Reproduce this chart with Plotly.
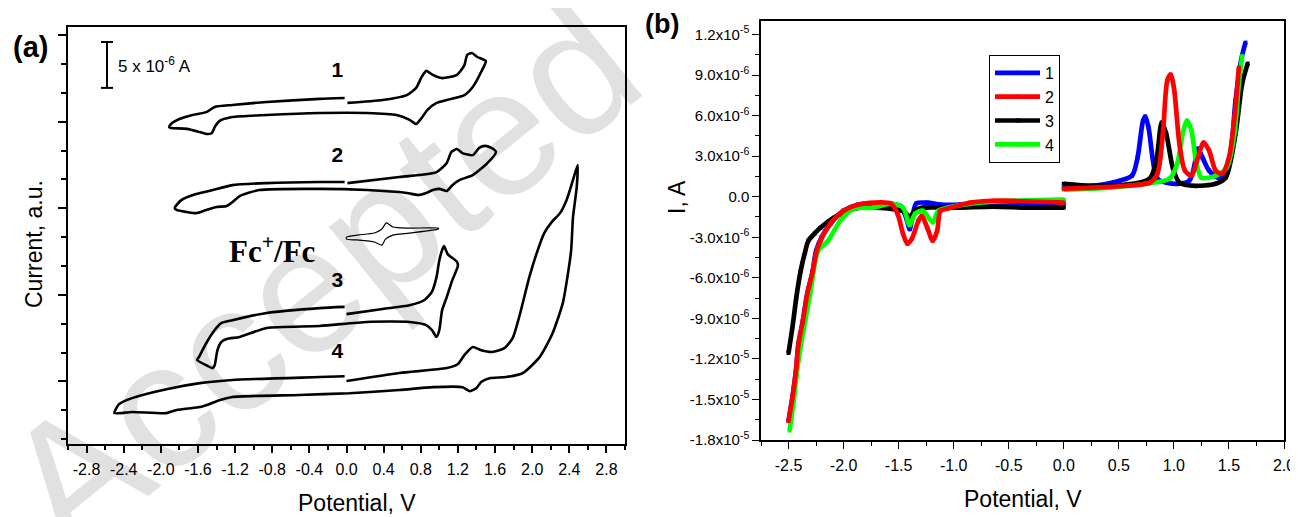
import plotly.graph_objects as go

# the page body has an 8 px default margin, so the figure is drawn 8 px in from the corner
OFF = 8
W, H = 1298 - OFF, 517 - OFF

# ---------------- Panel (a): CVs, potential (V) vs current (a.u.) ----------------
cv1_E = [0.01, 0.39, 0.65, 0.75, 0.81, 0.86, 0.93, 1.03, 1.19, 1.27, 1.30, 1.35, 1.41, 1.50,
         1.45, 1.36, 1.27, 1.08, 0.97, 0.87, 0.81, 0.75, 0.68, 0.54, 0.22, -0.29, -0.86, -1.23,
         -1.37, -1.42, -1.45, -1.50, -1.58, -1.72, -1.89, -1.91,
         -1.89, -1.80, -1.66, -1.51, -1.42, -1.23, -0.86, -0.29, -0.02]
cv1_I = [11.65, 11.75, 11.92, 12.17, 12.55, 12.76, 12.62, 12.51, 12.62, 12.96, 13.31, 13.38, 13.24, 13.10,
         12.72, 12.20, 11.92, 11.75, 11.65, 11.40, 11.13, 10.92, 11.06, 11.23, 11.30, 11.30, 11.23, 11.16,
         11.02, 10.81, 10.61, 10.57, 10.64, 10.75, 10.78, 10.81,
         10.92, 11.09, 11.23, 11.33, 11.51, 11.58, 11.68, 11.79, 11.82]

cv2_E = [0.01, 0.57, 0.97, 1.08, 1.13, 1.19, 1.25, 1.36, 1.43, 1.49, 1.56, 1.61,
         1.52, 1.36, 1.22, 1.14, 1.08, 1.00, 0.93, 0.86, 0.77, 0.65, 0.22, -0.29, -0.94, -1.15,
         -1.23, -1.29, -1.40, -1.51, -1.62, -1.72, -1.83, -1.85,
         -1.78, -1.62, -1.44, -1.23, -0.86, -0.29, -0.02]
cv2_I = [8.87, 9.08, 9.25, 9.57, 9.95, 10.05, 9.91, 9.84, 10.09, 10.16, 10.09, 9.95,
         9.57, 9.15, 8.98, 8.80, 8.60, 8.67, 8.63, 8.53, 8.46, 8.53, 8.63, 8.67, 8.63, 8.42,
         8.21, 8.08, 8.04, 7.94, 7.83, 7.87, 7.94, 8.01,
         8.28, 8.49, 8.63, 8.80, 8.87, 8.91, 8.91]

cv3_E = [0.00, 0.39, 0.68, 0.84, 0.92, 0.97, 1.00, 1.03, 1.05, 1.09, 1.19, 1.20,
         1.14, 1.08, 1.03, 1.00, 0.97, 0.92, 0.86, 0.68, 0.22, -0.29, -0.86, -1.15, -1.29,
         -1.35, -1.39, -1.42, -1.44, -1.51, -1.61,
         -1.59, -1.51, -1.42, -1.35, -1.23, -0.86, -0.29, -0.02]
cv3_I = [4.33, 4.51, 4.64, 4.82, 5.10, 5.62, 6.20, 6.55, 6.69, 6.41, 6.14, 6.00,
         5.51, 4.92, 4.47, 3.78, 3.54, 3.78, 3.95, 4.06, 4.06, 3.92, 3.85, 3.54, 3.47,
         3.36, 3.08, 2.56, 2.46, 2.56, 2.74,
         2.84, 3.33, 3.78, 4.02, 4.12, 4.37, 4.54, 4.58]

cv4_E = [0.00, 0.57, 1.08, 1.20, 1.27, 1.36, 1.45, 1.57, 1.70, 1.79, 1.86, 1.97, 2.06, 2.13,
         2.21, 2.30, 2.37, 2.44, 2.49,
         2.48, 2.44, 2.42, 2.38, 2.33, 2.22, 2.08, 1.90, 1.72, 1.54, 1.45, 1.40, 1.33, 1.25,
         0.93, 0.57, 0.03, -0.51, -1.23, -1.37, -1.48, -1.58, -1.83, -1.94, -2.31, -2.50,
         -2.45, -2.31, -1.94, -1.58, -1.23, -0.29, -0.02]
cv4_I = [2.01, 2.29, 2.46, 2.60, 2.91, 3.19, 3.08, 3.02, 3.15, 3.50, 4.23, 5.62, 6.55, 7.14,
         7.52, 7.83, 8.28, 8.98, 9.50,
         8.73, 7.69, 6.55, 5.62, 4.71, 3.67, 2.84, 2.29, 2.15, 2.11, 1.98, 1.77, 1.66, 1.80,
         1.80, 1.70, 1.59, 1.53, 1.46, 1.35, 1.21, 1.11, 1.01, 0.90, 0.94, 0.90,
         1.21, 1.42, 1.73, 1.94, 2.05, 2.15, 2.18]

fc_E = [0.00, 0.12, 0.30, 0.38, 0.43, 0.50, 0.65, 0.99, 0.99, 0.68, 0.50, 0.42, 0.38, 0.30, 0.11, 0.00, 0.00]
fc_I = [7.00, 7.07, 7.14, 7.28, 7.49, 7.35, 7.31, 7.31, 7.28, 7.14, 7.07, 6.93, 6.72, 6.83, 6.90, 6.93, 7.00]

curve_labels = ["1", "2", "3", "4"]
label_E = [-0.10, -0.10, -0.10, -0.10]
label_I = [12.72, 9.77, 5.45, 2.98]

a_xtick_vals = [-2.8, -2.4, -2.0, -1.6, -1.2, -0.8, -0.4, 0.0, 0.4, 0.8, 1.2, 1.6, 2.0, 2.4, 2.8]
a_xtick_text = ["-2.8", "-2.4", "-2.0", "-1.6", "-1.2", "-0.8", "-0.4", "0.0", "0.4", "0.8", "1.2",
                "1.6", "2.0", "2.4", "2.8"]

# ---------------- Panel (b): potential (V) vs current (1e-6 A) ----------------
b1_neg_E = [-2.50, -2.46, -2.43, -2.41, -2.37, -2.33, -2.28, -2.25, -2.20, -2.12, -2.00, -1.87, -1.57,
            -1.48, -1.43, -1.40, -1.37, -1.34, -1.24, -1.12, -0.94, -0.64, 0.00]
b1_neg_I = [-16.6, -14.6, -12.7, -10.9, -9.2, -7.2, -5.5, -4.0, -3.0, -2.0, -1.04, -0.59, -0.52,
            -0.7, -1.6, -2.4, -1.3, -0.5, -0.44, -0.59, -0.59, -0.44, -0.59]
b1_pos_E = [0.00, 0.26, 0.51, 0.62, 0.67, 0.72, 0.74, 0.77, 0.81, 0.85, 0.99, 1.14, 1.20, 1.22, 1.26,
            1.32, 1.41, 1.50, 1.56, 1.61, 1.65]
b1_pos_I = [0.67, 0.81, 1.19, 1.56, 2.89, 5.63, 5.93, 5.11, 2.67, 1.33, 0.96, 1.19, 2.89, 3.56, 2.89,
            1.93, 1.41, 2.67, 7.11, 10.1, 11.4]

b2_neg_E = [-2.50, -2.46, -2.43, -2.41, -2.37, -2.33, -2.28, -2.25, -2.21, -2.12, -2.00, -1.87, -1.57,
            -1.51, -1.46, -1.42, -1.38, -1.32, -1.29, -1.24, -1.19, -1.15, -1.12, -1.06, -0.85, -0.64, 0.00]
b2_neg_I = [-16.6, -14.6, -12.7, -10.9, -9.2, -7.2, -5.5, -4.2, -3.26, -2.0, -1.04, -0.59, -0.52,
            -1.26, -2.74, -3.48, -3.11, -1.78, -1.41, -2.30, -3.26, -2.52, -1.04, -0.89, -0.44, -0.30, -0.44]
b2_pos_E = [0.00, 0.26, 0.57, 0.78, 0.85, 0.90, 0.94, 0.97, 1.00, 1.05, 1.10, 1.16, 1.21, 1.27, 1.32,
            1.38, 1.44, 1.50, 1.55, 1.59]
b2_pos_I = [0.59, 0.67, 0.81, 1.04, 1.70, 4.67, 8.59, 9.04, 8.08, 3.93, 1.93, 1.56, 2.67, 4.0, 3.41,
            1.93, 1.70, 2.89, 5.85, 9.56]

b3_neg_E = [-2.50, -2.46, -2.43, -2.39, -2.35, -2.32, -2.26, -2.21, -2.09, -1.96, -1.85, -1.57, -1.45,
            -1.40, -1.35, -1.28, -0.97, -0.64, -0.34, 0.00]
b3_neg_I = [-11.56, -9.4, -7.5, -5.5, -4.1, -3.26, -2.7, -2.30, -1.56, -1.04, -0.81, -0.9, -1.1,
            -1.5, -1.0, -0.81, -0.81, -0.74, -0.81, -0.81]
b3_pos_E = [0.00, 0.26, 0.57, 0.78, 0.84, 0.89, 0.93, 0.99, 1.05, 1.17, 1.38, 1.47, 1.56, 1.62, 1.67]
b3_pos_I = [0.96, 0.81, 0.89, 1.33, 2.67, 5.48, 4.67, 2.15, 1.04, 0.81, 0.96, 1.41, 4.67, 8.37, 9.85]

b4_neg_E = [-2.49, -2.45, -2.41, -2.36, -2.30, -2.23, -2.14, -2.03, -1.91, -1.73, -1.57, -1.46, -1.40,
            -1.35, -1.28, -1.19, -1.14, -0.97, -0.64, 0.00]
b4_neg_I = [-17.3, -14.9, -12.1, -9.7, -7.0, -4.0, -3.26, -1.78, -0.89, -0.81, -0.52, -0.81, -2.1,
            -1.26, -1.04, -1.9, -1.04, -0.67, -0.37, -0.22]
b4_pos_E = [0.00, 0.42, 0.75, 0.96, 1.03, 1.08, 1.12, 1.16, 1.20, 1.25, 1.38, 1.48, 1.55, 1.59, 1.62]
b4_pos_I = [0.52, 0.67, 0.96, 1.33, 2.44, 4.67, 5.63, 4.89, 2.67, 1.41, 1.56, 2.15, 4.67, 8.37, 10.4]

series_names = ["1", "2", "3", "4"]
series_colors = ["#0000ff", "#ff0000", "#000000", "#00ff00"]

b_ytick_vals = [1.2e-5, 9e-6, 6e-6, 3e-6, 0, -3e-6, -6e-6, -9e-6, -1.2e-5, -1.5e-5, -1.8e-5]
b_ytick_text = ["1.2x10<sup>-5</sup>", "9.0x10<sup>-6</sup>", "6.0x10<sup>-6</sup>", "3.0x10<sup>-6</sup>",
                "0.0", "-3.0x10<sup>-6</sup>", "-6.0x10<sup>-6</sup>", "-9.0x10<sup>-6</sup>",
                "-1.2x10<sup>-5</sup>", "-1.5x10<sup>-5</sup>", "-1.8x10<sup>-5</sup>"]
b_xtick_vals = [-2.5, -2.0, -1.5, -1.0, -0.5, 0.0, 0.5, 1.0, 1.5, 2.0]
b_xtick_text = ["-2.5", "-2.0", "-1.5", "-1.0", "-0.5", "0.0", "0.5", "1.0", "1.5", "2.0"]


def pxx(x):
    return (x - OFF) / W


def pxy(y):
    return 1 - (y - OFF) / H


SANS = "Arial, Liberation Sans, sans-serif"
SERIF = "Times New Roman, Liberation Serif, serif"

fig = go.Figure()

for E, I in [(cv1_E, cv1_I), (cv2_E, cv2_I), (cv3_E, cv3_I), (cv4_E, cv4_I)]:
    fig.add_trace(go.Scatter(x=E, y=I, mode="lines", xaxis="x", yaxis="y", showlegend=False,
                             hoverinfo="skip",
                             line=dict(color="black", width=2.6, shape="spline", smoothing=0.6)))
fig.add_trace(go.Scatter(x=fc_E, y=fc_I, mode="lines", xaxis="x", yaxis="y", showlegend=False,
                         hoverinfo="skip",
                         line=dict(color="black", width=1.2, shape="spline", smoothing=0.6)))
fig.add_trace(go.Scatter(x=label_E, y=label_I, mode="text", text=curve_labels, xaxis="x", yaxis="y",
                         showlegend=False, hoverinfo="skip",
                         textfont=dict(family=SANS, size=21, color="black", weight="bold")))

uA = 1e-6
b_data = {
    "1": (b1_neg_E, b1_neg_I, b1_pos_E, b1_pos_I),
    "2": (b2_neg_E, b2_neg_I, b2_pos_E, b2_pos_I),
    "3": (b3_neg_E, b3_neg_I, b3_pos_E, b3_pos_I),
    "4": (b4_neg_E, b4_neg_I, b4_pos_E, b4_pos_I),
}
draw_order = ["1", "3", "4", "2"]
for name in draw_order:
    k = series_names.index(name)
    col = series_colors[k]
    nE, nI, pE, pI = b_data[name]
    for j, (E, I) in enumerate([(nE, nI), (pE, pI)]):
        fig.add_trace(go.Scatter(
            x=E, y=[v * uA for v in I], mode="lines+markers", xaxis="x2", yaxis="y2",
            name=name, legendgroup=name, showlegend=(j == 0), legendrank=k + 1,
            hoverinfo="skip",
            line=dict(color=col, width=4.7, shape="spline", smoothing=0.8),
            marker=dict(color=col, size=4, symbol="square")))

tick_common = dict(showgrid=False, zeroline=False, linecolor="black", tickcolor="black",
                   tickfont=dict(family=SANS, size=16, color="black"))

fig.update_layout(
    width=W, height=H,
    margin=dict(l=0, r=0, t=0, b=0, autoexpand=False),
    paper_bgcolor="white", plot_bgcolor="rgba(0,0,0,0)",
    font=dict(family=SANS, color="black"),
    xaxis=dict(domain=[pxx(68), pxx(625)], range=[-3.0, 3.0], anchor="y",
               showline=True, linewidth=2, mirror=True,
               ticks="outside", ticklen=7, tickwidth=1.5,
               tickmode="array", tickvals=a_xtick_vals, ticktext=a_xtick_text,
               ticklabelstandoff=3,
               minor=dict(ticks="outside", ticklen=4, tickwidth=1.5, tickmode="linear",
                          tick0=-3.0, dtick=0.2, tickcolor="black"),
               **tick_common),
    yaxis=dict(domain=[pxy(444), pxy(27)], range=[-0.17, 14.28], anchor="x",
               showline=True, linewidth=2, mirror=True,
               ticks="outside", ticklen=8, tickwidth=1.5, tick0=2, dtick=3, showticklabels=False,
               minor=dict(ticks="outside", ticklen=5, tickwidth=1.5, tick0=0, dtick=1,
                          tickcolor="black"),
               **tick_common),
    xaxis2=dict(domain=[pxx(761), pxx(1284)], range=[-2.75, 2.0], anchor="y2",
                showline=True, linewidth=1.5, mirror=True,
                ticks="outside", ticklen=7, tickwidth=1.3,
                tickmode="array", tickvals=b_xtick_vals, ticktext=b_xtick_text,
                ticklabelstandoff=3,
                minor=dict(ticks="outside", ticklen=4, tickwidth=1.3, tickmode="linear",
                           tick0=-2.75, dtick=0.25, tickcolor="black"),
                **tick_common),
    yaxis2=dict(domain=[pxy(440), pxy(21)], range=[-1.8e-5, 1.3e-5], anchor="x2",
                showline=True, linewidth=1.5, mirror=True,
                ticks="outside", ticklen=7, tickwidth=1.3,
                tickmode="array", tickvals=b_ytick_vals, ticktext=b_ytick_text,
                minor=dict(ticks="outside", ticklen=4, tickwidth=1.3, tickmode="linear",
                           tick0=0, dtick=1.5e-6, tickcolor="black"),
                showgrid=False, zeroline=False, linecolor="black", tickcolor="black",
                tickfont=dict(family=SANS, size=15, color="black")),
    xaxis3=dict(overlaying="x2", anchor="y2", side="top", range=[-2.75, 2.0],
                showline=False, ticks="inside", ticklen=3, tickwidth=1, tick0=-2.75, dtick=0.25,
                showticklabels=False, showgrid=False, zeroline=False, tickcolor="black"),
    yaxis3=dict(overlaying="y2", anchor="x2", side="right", range=[-1.8e-5, 1.3e-5],
                showline=False, ticks="inside", ticklen=3, tickwidth=1, tick0=0, dtick=1.5e-6,
                showticklabels=False, showgrid=False, zeroline=False, tickcolor="black"),
    legend=dict(x=pxx(989), y=pxy(55), xanchor="left", yanchor="top",
                bgcolor="white", bordercolor="black", borderwidth=1,
                font=dict(family=SANS, size=16, color="black"),
                itemwidth=45, tracegroupgap=0),
)

# watermark (below traces)
fig.add_shape(type="rect", xref="paper", yref="paper", x0=pxx(190), x1=pxx(430), y0=pxy(305), y1=pxy(220),
              line=dict(width=0), fillcolor="rgba(0,0,0,0)", layer="below",
              label=dict(text="Accepted", textangle=-39, textposition="middle center",
                         font=dict(family=SANS, size=180, color="#e1e1e1")))

# scale bar in panel (a)
bar_x, bar_y0, bar_y1, cap = -2.58, 12.17, 13.76, 0.065
fig.add_shape(type="line", xref="x", yref="y", x0=bar_x, x1=bar_x, y0=bar_y0, y1=bar_y1,
              line=dict(color="black", width=2))
for yy in (bar_y0, bar_y1):
    fig.add_shape(type="line", xref="x", yref="y", x0=bar_x - cap, x1=bar_x + cap, y0=yy, y1=yy,
                  line=dict(color="black", width=2))

ann = [
    dict(text="5 x 10<sup>-6</sup> A", x=-2.48, y=12.95, xref="x", yref="y", xanchor="left",
         font=dict(family=SANS, size=17)),
    dict(text="<b>Fc<sup>+</sup>/Fc</b>", x=pxx(272), y=pxy(250), xref="paper", yref="paper",
         font=dict(family=SERIF, size=31)),
    dict(text="<b>(a)</b>", x=pxx(30), y=pxy(47), xref="paper", yref="paper",
         font=dict(family=SANS, size=29)),
    dict(text="<b>(b)</b>", x=pxx(662), y=pxy(24), xref="paper", yref="paper",
         font=dict(family=SANS, size=27)),
    dict(text="Current, a.u.", x=pxx(34), y=pxy(244), xref="paper", yref="paper", textangle=-90,
         font=dict(family=SANS, size=23)),
    dict(text="Potential, V", x=pxx(357), y=pxy(503), xref="paper", yref="paper",
         font=dict(family=SANS, size=23)),
    dict(text="Potential, V", x=pxx(1023), y=pxy(499), xref="paper", yref="paper",
         font=dict(family=SANS, size=23)),
    dict(text="I, A", x=pxx(677), y=pxy(197), xref="paper", yref="paper", textangle=-90,
         font=dict(family=SANS, size=23)),
]
for a in ann:
    a.setdefault("showarrow", False)
    a.setdefault("xanchor", "center")
    a.setdefault("yanchor", "middle")
    a["font"].setdefault("color", "black")
    fig.add_annotation(**a)

fig.write_html("out.html")
